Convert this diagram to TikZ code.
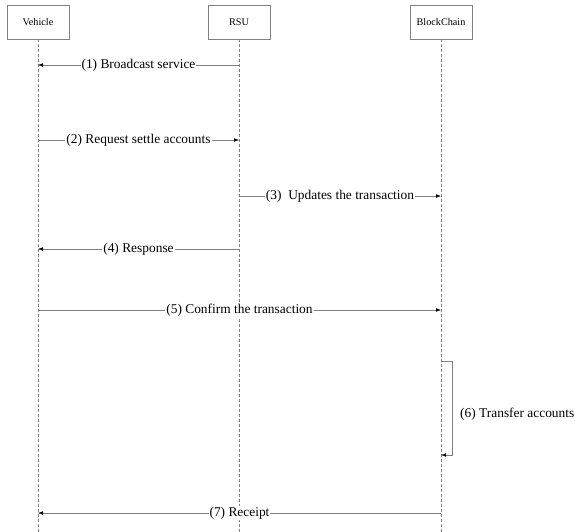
\documentclass[tikz,border=0pt]{standalone}
\usepackage{fontspec}
\setmainfont{Liberation Serif}
\usetikzlibrary{arrows.meta, positioning}

\begin{document}
\begin{tikzpicture}[
    x=1pt, y=-1pt,
    actor/.style={draw=gray, thin, fill=white, minimum width=62pt, minimum height=34pt, font=\fontsize{10.2}{12}\selectfont},
    lifeline/.style={draw=gray, thin, dash pattern=on 3pt off 2pt},
    msg/.style={draw=gray, thin, -{Latex[length=5pt, width=3.5pt, black]}},
    lbl/.style={fill=white, inner sep=1pt, font=\fontsize{13.4}{15}\selectfont}
]
\useasboundingbox (0,0) rectangle (575,532);

% Participants
\node[actor] (vehicle) at (38,22) {Vehicle};
\node[actor] (rsu) at (239,22) {RSU};
\node[actor] (chain) at (441,22) {BlockChain};

% Lifelines
\coordinate (vehicle end) at (vehicle |- 0,532);
\coordinate (rsu end) at (rsu |- 0,532);
\coordinate (chain end) at (chain |- 0,532);
\draw[lifeline] (vehicle) -- (vehicle end);
\draw[lifeline] (rsu) -- (rsu end);
\draw[lifeline] (chain) -- (chain end);

% Message points
\coordinate (v1) at (vehicle |- 0,65);  \coordinate (r1) at (rsu |- 0,65);
\coordinate (v2) at (vehicle |- 0,140); \coordinate (r2) at (rsu |- 0,140);
\coordinate (r3) at (rsu |- 0,196);     \coordinate (c3) at (chain |- 0,196);
\coordinate (v4) at (vehicle |- 0,249); \coordinate (r4) at (rsu |- 0,249);
\coordinate (v5) at (vehicle |- 0,310); \coordinate (c5) at (chain |- 0,310);
\coordinate (c6a) at (chain |- 0,361);  \coordinate (c6b) at (chain |- 0,455);
\coordinate (v7) at (vehicle |- 0,513); \coordinate (c7) at (chain |- 0,513);

% Messages
\draw[msg] (r1) -- node[lbl] {(1) Broadcast service} (v1);
\draw[msg] (v2) -- node[lbl] {(2) Request settle accounts} (r2);
\draw[msg] (r3) -- node[lbl] {(3)\ \ Updates the transaction} (c3);
\draw[msg] (r4) -- node[lbl] {(4) Response} (v4);
\draw[msg] (v5) -- node[lbl] {(5) Confirm the transaction} (c5);
\draw[msg] (c6a) -- ++(11,0) -- node[lbl, right=7pt, yshift=-6pt] {(6) Transfer accounts} ++(0,94) -- (c6b);
\draw[msg] (c7) -- node[lbl] {(7) Receipt} (v7);

\end{tikzpicture}
\end{document}
